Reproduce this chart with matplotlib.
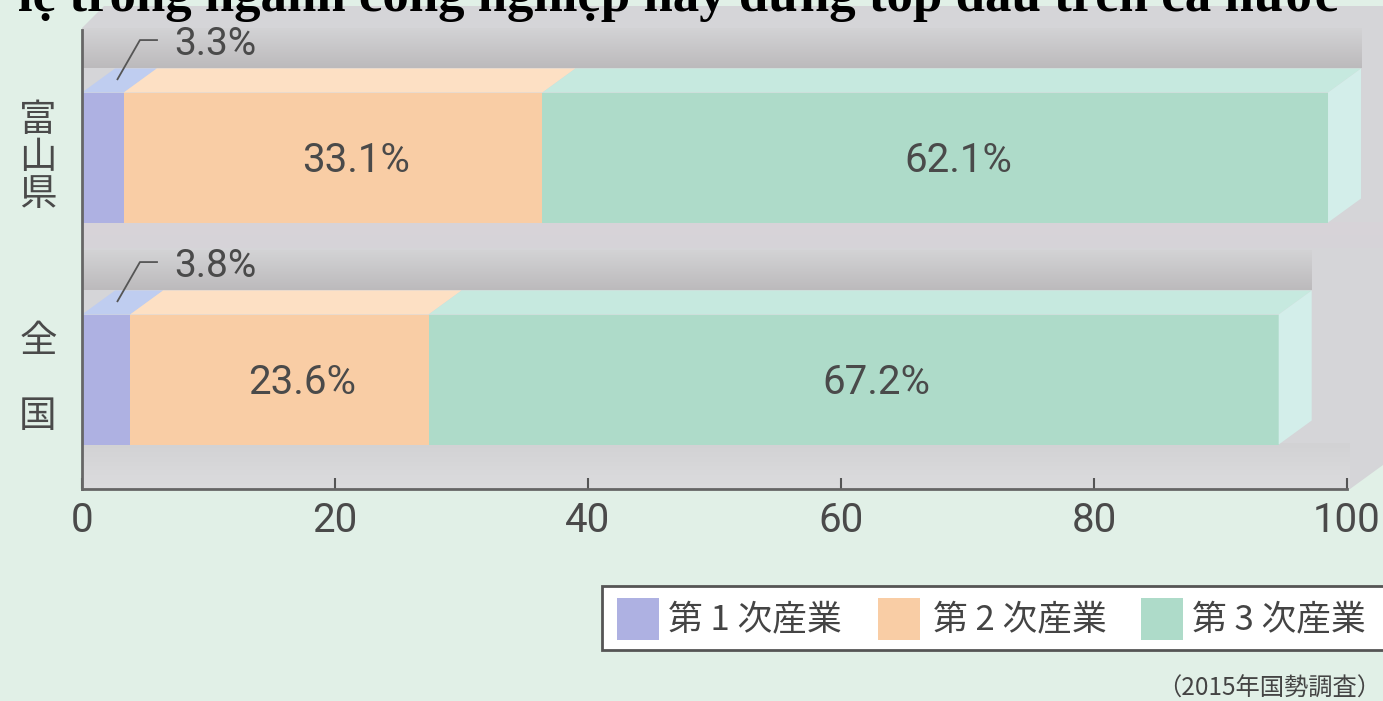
import matplotlib
matplotlib.use('Agg')
import matplotlib.pyplot as plt
from matplotlib.patches import Polygon, Rectangle
from matplotlib.colors import to_rgb
import numpy as np

# ---------------- data ----------------
categories = ['全国', '富山県']
cat_labels = ['全\n\n国', '富\n山\n県']
primary = [3.8, 3.3]
secondary = [23.6, 33.1]
tertiary = [67.2, 62.1]
series_names = ['第 1 次産業', '第 2 次産業', '第 3 次産業']
small_labels = ['3.8%', '3.3%']
xticks = [0, 20, 40, 60, 80, 100]
title = 'lệ trong ngành công nghiệp này đứng top đầu trên cả nước'
source = '（2015年国勢調査）'

# ---------------- style ----------------
BG = '#e1f0e7'
front_cols = ['#aeb1e2', '#f9cda5', '#aedbc9']
top_cols = ['#bfcdf0', '#fde0c4', '#c6e9df']
side_col = '#d3eeea'
TXT = '#4a4a4a'
NUM_FONT = ['Roboto', 'DejaVu Sans']
CJK_FONT = ['Noto Sans CJK JP', 'DejaVu Sans']

W, H = 1383, 701
fig = plt.figure(figsize=(W / 100, H / 100), dpi=100)
fig.patch.set_facecolor(BG)

x0px, x100px = 82, 1347
ybot, ytop = 489, 30
ax = fig.add_axes([x0px / W, (H - ybot) / H, (x100px - x0px) / W, (ybot - ytop) / H])
ax.set_facecolor('none')
pxu = (x100px - x0px) / 100.0
centers_px = [379.5, 157.5]
ppy = centers_px[0] - centers_px[1]


def X(px):
    return (px - x0px) / pxu


def Y(py):
    return (centers_px[0] - py) / ppy


ylo, yhi = Y(ybot), Y(ytop)

# depth of the 3-D effect
dx = 33 / pxu
dy = 24 / ppy
bh = 130 / ppy

# gray panel (box)
panel = Polygon([(0, ylo), (X(1350), ylo), (X(1383), Y(465)), (X(1383), Y(6)),
                 (X(104), Y(6)), (0, Y(28))], closed=True,
                facecolor='#d5d5d8', edgecolor='none', zorder=0.5, clip_on=False)
ax.add_patch(panel)


def vgrad(c_top, c_bot, n=60):
    a, b = np.array(to_rgb(c_top)), np.array(to_rgb(c_bot))
    t = np.linspace(0, 1, n)[:, None]
    return (a * (1 - t) + b * t)[:, None, :]


ax.imshow(vgrad('#d2d2d4', '#dcdcde'), extent=[0, X(1350), ylo, Y(443)],
          aspect='auto', zorder=0.6, clip_on=False, interpolation='bilinear')
# light pinkish strip between the bars
ax.imshow(vgrad('#d8d3d9', '#d6d4d8'), extent=[0, X(1383), Y(248), Y(222)],
          aspect='auto', zorder=0.6, clip_on=False, interpolation='bilinear')

series = [primary, secondary, tertiary]
for i, yc in enumerate([0, 1]):
    vals = [s[i] for s in series]
    total = sum(vals)
    bar_top = yc + bh / 2
    # back shadow band
    band_h = 40 / ppy
    ax.imshow(vgrad('#d3d3d5', '#bcbabc'),
              extent=[0, total + dx, bar_top + dy, bar_top + dy + band_h],
              aspect='auto', zorder=1, clip_on=False, interpolation='bilinear')
    left = 0.0
    for k, v in enumerate(vals):
        ax.barh(yc, v, left=left, height=bh, color=front_cols[k],
                edgecolor='none', zorder=2)
        ax.add_patch(Polygon([(left, bar_top), (left + v, bar_top),
                              (left + v + dx, bar_top + dy), (left + dx, bar_top + dy)],
                             closed=True, facecolor=top_cols[k], edgecolor='none',
                             zorder=2, clip_on=False))
        left += v
    # right side face
    ax.add_patch(Polygon([(left, yc - bh / 2), (left, bar_top), (left + dx, bar_top + dy),
                          (left + dx, yc - bh / 2 + dy)], closed=True,
                         facecolor=side_col, edgecolor='none', zorder=2, clip_on=False))
    # value labels for 2nd and 3rd sectors
    l2 = vals[0]
    ax.text(l2 + vals[1] / 2 + 1.8, yc - 0.012, f'{vals[1]:.1f}%', ha='center', va='center',
            fontsize=29, color=TXT, family=NUM_FONT, zorder=3)
    l3 = vals[0] + vals[1]
    ax.text(l3 + vals[2] / 2 + 1.8, yc - 0.012, f'{vals[2]:.1f}%', ha='center', va='center',
            fontsize=29, color=TXT, family=NUM_FONT, zorder=3)
    # leader + small label for primary sector
    ax.plot([2.77, 4.58, 6.0], [yc + 0.349, yc + 0.529, yc + 0.529], color='#555555',
            lw=1.3, zorder=3, clip_on=False, solid_capstyle='butt')
    ax.text(7.3, yc + 0.507, small_labels[i], ha='left', va='center', fontsize=28,
            color=TXT, family=NUM_FONT, zorder=3)
    # category label
    ax.text(X(38), yc, cat_labels[i], ha='center', va='center',
            fontsize=27, color='#4a4a4a', family=CJK_FONT, linespacing=0.95,
            transform=ax.transData, zorder=3, clip_on=False)

ax.set_xlim(0, 100)
ax.set_ylim(ylo, yhi)
ax.set_yticks([])
ax.set_xticks(xticks)
ax.set_xticklabels([str(t) for t in xticks], fontsize=29, color=TXT, family=NUM_FONT)
ax.tick_params(axis='x', direction='in', length=8, width=1.5, color='#555555', pad=9)
for s in ['top', 'right']:
    ax.spines[s].set_visible(False)
for s in ['left', 'bottom']:
    ax.spines[s].set_color('#666666')
    ax.spines[s].set_linewidth(2)
    ax.spines[s].set_zorder(4)

# ---------------- legend (manual) ----------------
def fx(px):
    return px / W


def fy(py):
    return (H - py) / H


fig.add_artist(Rectangle((fx(602), fy(650)), fx(1395) - fx(602), fy(586) - fy(650),
                         transform=fig.transFigure, facecolor='white',
                         edgecolor='#555555', lw=2, zorder=5, clip_on=False))
patch_x = [617, 878, 1141]
text_x = [668, 933, 1192]
for k in range(3):
    fig.add_artist(Rectangle((fx(patch_x[k]), fy(640)), 42 / W, 42 / H,
                             transform=fig.transFigure, facecolor=front_cols[k],
                             edgecolor='none', zorder=6))
    fig.text(fx(text_x[k]), fy(620), series_names[k], ha='left', va='center',
             fontsize=25, color='#444444', family=CJK_FONT, zorder=7)

fig.text(fx(1381), fy(689), source, ha='right', va='center', fontsize=17.5,
         color='#444444', family=CJK_FONT)

# ---------------- title (cropped at the top, as in the source image) ----------------
t = fig.text(fx(18), fy(11), title, ha='left', va='baseline', fontsize=33,
             fontweight='bold', family=['Liberation Serif', 'DejaVu Serif'], color='black',
             zorder=10)
r = fig.canvas.get_renderer()
w = t.get_window_extent(r).width
t.set_fontsize(33 * (1343 - 18) / w)

fig.savefig('out.png', dpi=100, facecolor=BG)
